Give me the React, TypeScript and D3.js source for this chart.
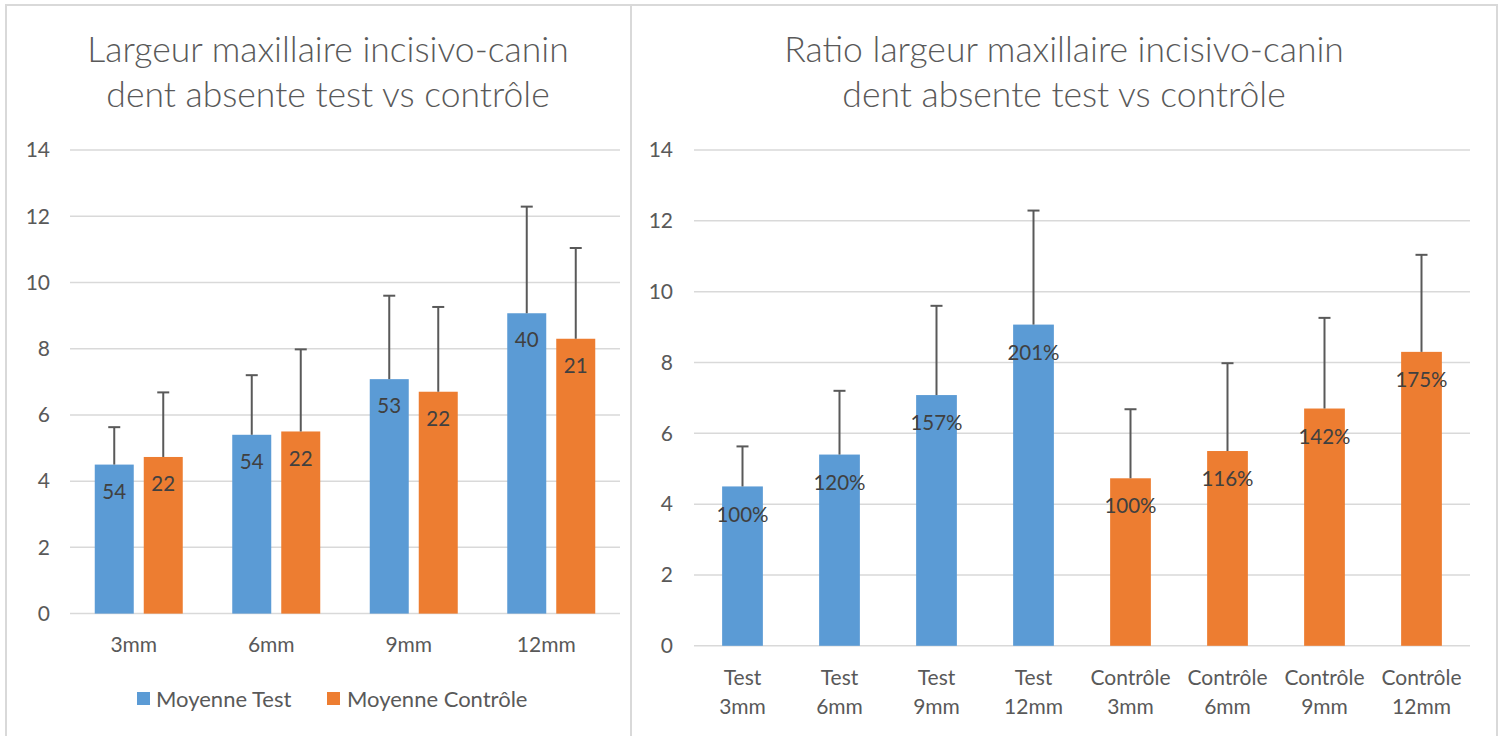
import React from "react";
import * as d3 from "d3";

const categories = ["3mm", "6mm", "9mm", "12mm"];
const testMean = [4.5, 5.4, 7.08, 9.07];
const controlMean = [4.73, 5.5, 6.7, 8.3];
const testErr = [1.13, 1.8, 2.52, 3.22];
const controlErr = [1.95, 2.48, 2.56, 2.74];
const testN = ["54", "54", "53", "40"];
const controlN = ["22", "22", "22", "21"];
const testRatio = ["100%", "120%", "157%", "201%"];
const controlRatio = ["100%", "116%", "142%", "175%"];
const groupNames = ["Test", "Contrôle"];
const seriesNames = ["Moyenne Test", "Moyenne Contrôle"];
const yTicks = [0, 2, 4, 6, 8, 10, 12, 14];
const leftTitle = ["Largeur maxillaire incisivo-canin", "dent absente test vs contrôle"];
const rightTitle = ["Ratio largeur maxillaire incisivo-canin", "dent absente test vs contrôle"];

const BLUE = "#5b9bd5";
const ORANGE = "#ed7d31";
const GRID = "#d9d9d9";
const TXT = "#595959";
const LBL = "#404040";
const ERR = "#595959";
const FONT = "Lato, 'Open Sans', sans-serif";
const TICK_FS = 21;
const CAT_FS = 21;
const LEG_FS = 22;
const LAB_FS = 20.5;
const TITLE_FS = 35.5;

function ErrorBar({ x, y0, y1 }: { x: number; y0: number; y1: number }) {
  return (
    <g stroke={ERR} strokeWidth={2}>
      <line x1={x} x2={x} y1={y0} y2={y1} />
      <line x1={x - 6} x2={x + 6} y1={y1} y2={y1} />
    </g>
  );
}

function LeftChart() {
  const y = d3.scaleLinear().domain([0, 14]).range([613.6, 150]);
  const x0 = d3.scaleBand().domain(categories).range([70, 620]).paddingInner(0.36).paddingOuter(0.18);
  const x1 = d3.scaleBand().domain(seriesNames).range([0, x0.bandwidth()]).paddingInner(10 / 49);
  const series = [
    { name: seriesNames[0], color: BLUE, mean: testMean, err: testErr, lab: testN },
    { name: seriesNames[1], color: ORANGE, mean: controlMean, err: controlErr, lab: controlN },
  ];
  return (
    <g>
      <rect x={6} y={5} width={625} height={760} fill="#fff" stroke={GRID} strokeWidth={2} />
      <g fill={TXT} fontFamily={FONT} fontWeight={300} fontSize={TITLE_FS} textAnchor="middle">
        <text x={328} y={62}>{leftTitle[0]}</text>
        <text x={328} y={107}>{leftTitle[1]}</text>
      </g>
      {yTicks.map((t) => (
        <g key={t}>
          <line x1={70} x2={620} y1={y(t)} y2={y(t)} stroke={GRID} strokeWidth={1.5} />
          <text x={50} y={y(t)} dy="0.35em" textAnchor="end" fontFamily={FONT} fontSize={TICK_FS} fill={TXT}>{t}</text>
        </g>
      ))}
      {series.map((s) =>
        categories.map((c, i) => {
          const bx = (x0(c) as number) + (x1(s.name) as number);
          const bw = x1.bandwidth();
          const cx = bx + bw / 2;
          return (
            <g key={s.name + c}>
              <rect x={bx} y={y(s.mean[i])} width={bw} height={y(0) - y(s.mean[i])} fill={s.color} />
              <ErrorBar x={cx} y0={y(s.mean[i])} y1={y(s.mean[i] + s.err[i])} />
              <text x={cx} y={y(s.mean[i]) + 27} dy="0.35em" textAnchor="middle" fontFamily={FONT} fontSize={LAB_FS} fill={LBL}>{s.lab[i]}</text>
            </g>
          );
        })
      )}
      {categories.map((c) => (
        <text key={c} x={(x0(c) as number) + x0.bandwidth() / 2 - 5} y={645} dy="0.35em" textAnchor="middle" fontFamily={FONT} fontSize={CAT_FS} fill={TXT}>{c}</text>
      ))}
      <g fontFamily={FONT} fontSize={LEG_FS} fill={TXT}>
        <rect x={137} y={692} width={13} height={13} fill={BLUE} />
        <text x={156} y={699} dy="0.35em">{seriesNames[0]}</text>
        <rect x={327} y={692} width={13} height={13} fill={ORANGE} />
        <text x={347} y={699} dy="0.35em">{seriesNames[1]}</text>
      </g>
    </g>
  );
}

function RightChart() {
  const y = d3.scaleLinear().domain([0, 14]).range([645.8, 150]);
  const cats = [
    ...categories.map((c) => groupNames[0] + "\n" + c),
    ...categories.map((c) => groupNames[1] + "\n" + c),
  ];
  const means = [...testMean, ...controlMean];
  const errs = [...testErr, ...controlErr];
  const labs = [...testRatio, ...controlRatio];
  const colors = cats.map((_, i) => (i < categories.length ? BLUE : ORANGE));
  const x = d3.scaleBand().domain(cats).range([694, 1470]).paddingInner(0.58).paddingOuter(0.29);
  return (
    <g>
      <rect x={631} y={5} width={866} height={760} fill="#fff" stroke={GRID} strokeWidth={2} />
      <g fill={TXT} fontFamily={FONT} fontWeight={300} fontSize={TITLE_FS} textAnchor="middle">
        <text x={1064} y={62}>{rightTitle[0]}</text>
        <text x={1064} y={107}>{rightTitle[1]}</text>
      </g>
      {yTicks.map((t) => (
        <g key={t}>
          <line x1={694} x2={1470} y1={y(t)} y2={y(t)} stroke={GRID} strokeWidth={1.5} />
          <text x={673} y={y(t)} dy="0.35em" textAnchor="end" fontFamily={FONT} fontSize={TICK_FS} fill={TXT}>{t}</text>
        </g>
      ))}
      {cats.map((c, i) => {
        const bx = x(c) as number;
        const bw = x.bandwidth();
        const cx = bx + bw / 2;
        const lines = c.split("\n");
        return (
          <g key={c}>
            <rect x={bx} y={y(means[i])} width={bw} height={y(0) - y(means[i])} fill={colors[i]} />
            <ErrorBar x={cx} y0={y(means[i])} y1={y(means[i] + errs[i])} />
            <text x={cx} y={y(means[i]) + 28} dy="0.35em" textAnchor="middle" fontFamily={FONT} fontSize={LAB_FS} fill={LBL}>{labs[i]}</text>
            <text x={cx} y={678} dy="0.35em" textAnchor="middle" fontFamily={FONT} fontSize={CAT_FS} fill={TXT}>{lines[0]}</text>
            <text x={cx} y={707} dy="0.35em" textAnchor="middle" fontFamily={FONT} fontSize={CAT_FS} fill={TXT}>{lines[1]}</text>
          </g>
        );
      })}
    </g>
  );
}

export default function App() {
  return (
    <svg width={1505} height={736} style={{ position: "absolute", left: 0, top: 0, background: "#fff" }}>
      <rect x={0} y={0} width={1505} height={736} fill="#fff" />
      <LeftChart />
      <RightChart />
    </svg>
  );
}
